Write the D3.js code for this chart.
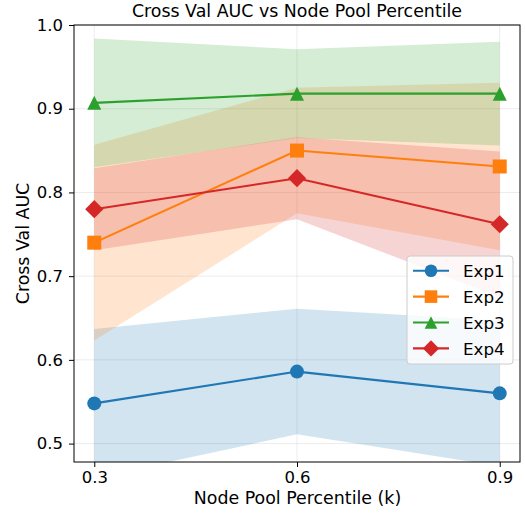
<!DOCTYPE html>
<html><head><meta charset="utf-8">
<script src="https://cdn.jsdelivr.net/npm/d3@7/dist/d3.min.js"></script>
<style>body{margin:0;background:#fff;} text{font-family:"DejaVu Sans",sans-serif;fill:#000;}</style>
</head><body><svg id="c" width="525" height="513"></svg>
<script>
const xValues = [0.3, 0.6, 0.9];
const seriesNames = ["Exp1", "Exp2", "Exp3", "Exp4"];
const exp1Mean = [0.548, 0.586, 0.560];
const exp1Std  = [0.089, 0.075, 0.087];
const exp2Mean = [0.740, 0.850, 0.831];
const exp2Std  = [0.117, 0.075, 0.100];
const exp3Mean = [0.907, 0.918, 0.918];
const exp3Std  = [0.077, 0.053, 0.062];
const exp4Mean = [0.780, 0.817, 0.762];
const exp4Std  = [0.049, 0.049, 0.087];
const colors = ["#1f77b4", "#ff7f0e", "#2ca02c", "#d62728"];
const markers = ["circle", "square", "triangle", "diamond"];
const xTicks = [0.3, 0.6, 0.9];
const yTicks = [0.5, 0.6, 0.7, 0.8, 0.9, 1.0];

const means = [exp1Mean, exp2Mean, exp3Mean, exp4Mean];
const stds = [exp1Std, exp2Std, exp3Std, exp4Std];

const svg = d3.select("#c");
const L = 74, R = 520, T = 25, B = 462;
const x = d3.scaleLinear().domain([0.27, 0.93]).range([L, R]);
const y = d3.scaleLinear().domain([0.478, 1.0]).range([B, T]);

// grid
const g = svg.append("g");
g.selectAll(".gx").data(xTicks).enter().append("line")
  .attr("x1", d => x(d)).attr("x2", d => x(d)).attr("y1", T).attr("y2", B)
  .attr("stroke", "#b0b0b0").attr("stroke-opacity", 0.3).attr("stroke-width", 0.8);
g.selectAll(".gy").data(yTicks).enter().append("line")
  .attr("x1", L).attr("x2", R).attr("y1", d => y(d)).attr("y2", d => y(d))
  .attr("stroke", "#b0b0b0").attr("stroke-opacity", 0.3).attr("stroke-width", 0.8);

svg.append("clipPath").attr("id", "clip").append("rect")
  .attr("x", L).attr("y", T).attr("width", R - L).attr("height", B - T);
const plot = svg.append("g").attr("clip-path", "url(#clip)");

const area = d3.area().x(d => x(d.x)).y0(d => y(d.m - d.s)).y1(d => y(d.m + d.s));
const line = d3.line().x(d => x(d.x)).y(d => y(d.m));

const data = means.map((m, i) => xValues.map((xv, j) => ({x: xv, m: m[j], s: stds[i][j]})));

data.forEach((d, i) => {
  plot.append("path").datum(d).attr("d", area).attr("fill", colors[i]).attr("fill-opacity", 0.2);
});

function sym(type, k) {
  const s = 7 * k;
  if (type === "circle") return d3.symbol().type(d3.symbolCircle).size(Math.PI * s * s)();
  if (type === "square") return `M${-s},${-s}H${s}V${s}H${-s}Z`;
  if (type === "triangle") return `M0,${-s}L${s},${s}L${-s},${s}Z`;
  const dd = s * 1.3;
  return `M0,${-dd}L${dd},0L0,${dd}L${-dd},0Z`;
}

data.forEach((d, i) => {
  plot.append("path").datum(d).attr("d", line).attr("fill", "none")
    .attr("stroke", colors[i]).attr("stroke-width", 2.1);
});
data.forEach((d, i) => {
  svg.selectAll(".m" + i).data(d).enter().append("path")
    .attr("d", sym(markers[i], 1))
    .attr("transform", p => `translate(${x(p.x)},${y(p.m)})`)
    .attr("fill", colors[i]);
});

// axes
const xAxis = svg.append("g").attr("transform", `translate(0,${B})`)
  .call(d3.axisBottom(x).tickValues(xTicks).tickFormat(d3.format(".1f")).tickSize(5).tickPadding(4.5));
const yAxis = svg.append("g").attr("transform", `translate(${L},0)`)
  .call(d3.axisLeft(y).tickValues(yTicks).tickFormat(d3.format(".1f")).tickSize(5).tickPadding(6));
[xAxis, yAxis].forEach(a => {
  a.selectAll("text").style("font-size", "16.5px").attr("fill", "#000");
  a.selectAll("line").attr("stroke", "#000");
  a.select(".domain").remove();
});
svg.append("rect").attr("x", L).attr("y", T).attr("width", R - L).attr("height", B - T)
  .attr("fill", "none").attr("stroke", "#000").attr("stroke-width", 1);

svg.append("text").attr("x", (L + R) / 2).attr("y", 17).attr("text-anchor", "middle")
  .style("font-size", "17.4px").text("Cross Val AUC vs Node Pool Percentile");
svg.append("text").attr("x", (L + R) / 2 + 0.5).attr("y", 504).attr("text-anchor", "middle")
  .style("font-size", "17.4px").text("Node Pool Percentile (k)");
svg.append("text").attr("transform", `translate(28.5,${(T + B) / 2}) rotate(-90)`).attr("text-anchor", "middle")
  .style("font-size", "17.4px").text("Cross Val AUC");

// legend
const lg = svg.append("g");
lg.append("rect").attr("x", 407).attr("y", 256).attr("width", 106).attr("height", 108).attr("rx", 3)
  .attr("fill", "#fff").attr("fill-opacity", 0.8).attr("stroke", "#ccc").attr("stroke-width", 1);
seriesNames.forEach((n, i) => {
  const yy = 270.7 + i * 25.9;
  lg.append("line").attr("x1", 413).attr("x2", 449).attr("y1", yy).attr("y2", yy)
    .attr("stroke", colors[i]).attr("stroke-width", 2.1);
  lg.append("path").attr("d", sym(markers[i], 0.9)).attr("transform", `translate(431,${yy})`).attr("fill", colors[i]);
  lg.append("text").attr("x", 463).attr("y", yy + 6.3).style("font-size", "16.7px").text(n);
});
</script></body></html>
